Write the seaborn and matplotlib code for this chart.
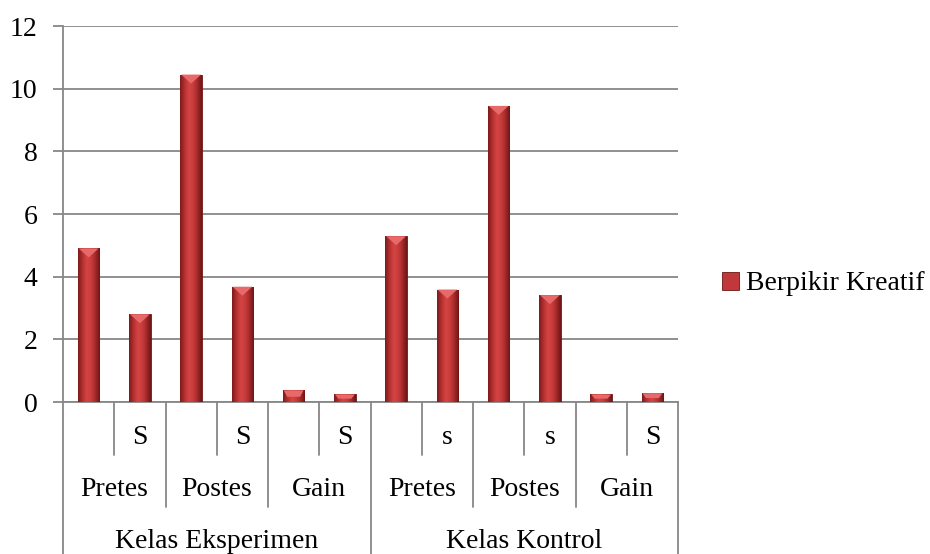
import numpy as np
import pandas as pd
import matplotlib
matplotlib.use("Agg")
import matplotlib.pyplot as plt
import matplotlib.transforms as mtransforms
from matplotlib.colors import LinearSegmentedColormap
from matplotlib.patches import Polygon, Patch
import seaborn as sns

# ---------------- data ----------------
kelas = ["Kelas Eksperimen", "Kelas Kontrol"]
tes = ["Pretes", "Postes", "Gain"]
stat_eksperimen = ["", "S", "", "S", "", "S"]
stat_kontrol = ["", "s", "", "s", "", "S"]
nilai_eksperimen = [4.9, 2.8, 10.45, 3.68, 0.37, 0.24]
nilai_kontrol = [5.29, 3.59, 9.45, 3.41, 0.24, 0.28]
y_ticks = [0, 2, 4, 6, 8, 10, 12]
series_name = "Berpikir Kreatif"

rows = []
for k, stats, vals in zip(kelas, [stat_eksperimen, stat_kontrol],
                          [nilai_eksperimen, nilai_kontrol]):
    for j, (s, v) in enumerate(zip(stats, vals)):
        rows.append({"kelas": k, "tes": tes[j // 2], "stat": s,
                     "key": f"{k}|{tes[j // 2]}|{j}", "nilai": v})
df = pd.DataFrame(rows)

# ---------------- style ----------------
sns.set_theme(style="white")
plt.rcParams["font.family"] = ["Liberation Serif", "DejaVu Serif"]
plt.rcParams["text.color"] = "black"
GRID = "#878787"
BAR = "#c0383a"
FS = 20

W, H = 930, 554
fig = plt.figure(figsize=(W / 100, H / 100), dpi=100)
ax_l, ax_r, ax_t, ax_b = 63, 678, 26, 402
ax = fig.add_axes([ax_l / W, 1 - ax_b / H, (ax_r - ax_l) / W, (ax_b - ax_t) / H])

sns.barplot(data=df, x="key", y="nilai", color=BAR, width=0.42,
            saturation=1, ax=ax, errorbar=None, zorder=3)

# bevelled look for each bar
cmap = LinearSegmentedColormap.from_list(
    "bev", ["#7d1a1b", "#b3302f", "#d44544", "#c83c3c", "#a52a2a", "#6e1516"])
grad = np.linspace(0, 1, 64).reshape(1, -1)
px_per_unit = (ax_b - ax_t) / 12.0
for p in list(ax.patches):
    x0, w, h = p.get_x(), p.get_width(), p.get_height()
    p.set_edgecolor("#6a1516")
    p.set_linewidth(0.6)
    im = ax.imshow(grad, extent=[x0, x0 + w, 0, h], cmap=cmap, aspect="auto",
                   zorder=3.5, interpolation="bilinear")
    im.set_clip_path(p)
    d = min(9 / px_per_unit, h * 0.55)
    tri = Polygon([(x0 + w * 0.04, h), (x0 + w * 0.96, h),
                   (x0 + w / 2, h - d)] if h > 0.5 else
                  [(x0 + w * 0.04, h), (x0 + w * 0.96, h),
                   (x0 + w * 0.8, h - d), (x0 + w * 0.2, h - d)],
                  closed=True, facecolor="#e8696a", edgecolor="none", zorder=3.6)
    ax.add_patch(tri)

ax.set_xlim(-0.5, 11.5)
ax.set_ylim(0, 12)
ax.set_yticks(y_ticks)
ax.set_xticks([])
ax.set_xlabel("")
ax.set_ylabel("")
ax.yaxis.grid(True, color=GRID, linewidth=1.3, zorder=0)
ax.set_axisbelow(True)
for s in ["top", "right"]:
    ax.spines[s].set_visible(False)
for s in ["left", "bottom"]:
    ax.spines[s].set_color(GRID)
    ax.spines[s].set_linewidth(1.3)
ax.tick_params(axis="y", direction="out", length=7.5, width=1.3, color=GRID,
               labelsize=FS, labelcolor="black", pad=11, left=True)
for lab in ax.get_yticklabels():
    lab.set_fontfamily(["Liberation Serif", "DejaVu Serif"])

# multi-level category axis
trans = mtransforms.blended_transform_factory(ax.transData, ax.transAxes)
axh = ax_b - ax_t
def yax(pix):
    return -(pix - ax_b) / axh

n = len(df)
for k in range(n + 1):
    xb = k - 0.5
    if k % 6 == 0:
        ybot = yax(H + 2)
    elif k % 2 == 0:
        ybot = yax(507)
    else:
        ybot = yax(455)
    ax.plot([xb, xb], [0, ybot], transform=trans, color=GRID, lw=1.3,
            clip_on=False, zorder=2)

for i, s in enumerate(df["stat"]):
    if s:
        ax.text(i, yax(438), s, transform=trans, ha="center", va="center",
                fontsize=FS, color="black")
for g in range(n // 2):
    ax.text(2 * g + 0.5, yax(489), df["tes"].iloc[2 * g], transform=trans,
            ha="center", va="center", fontsize=FS, color="black")
for g, k in enumerate(kelas):
    ax.text(6 * g + 2.5, yax(541), k, transform=trans, ha="center",
            va="center", fontsize=FS, color="black")

# legend
handle = Patch(facecolor=BAR, edgecolor="#6a1516", linewidth=0.6)
leg = fig.legend([handle], [series_name], loc="center left",
                 bbox_to_anchor=(711 / W, 1 - 284 / H), frameon=False,
                 fontsize=FS, handlelength=0.6, handleheight=0.6,
                 handletextpad=0.25, borderaxespad=0)
for t in leg.get_texts():
    t.set_color("black")

fig.savefig("out.png", dpi=100)
